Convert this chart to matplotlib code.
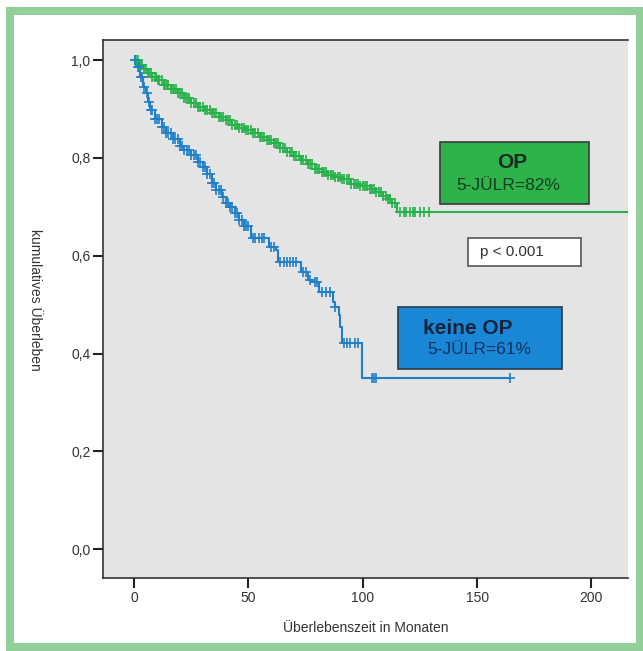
import matplotlib as mpl
mpl.use('Agg')
import matplotlib.pyplot as plt
from matplotlib.patches import Rectangle
import numpy as np

plt.rcParams['font.family'] = ['Liberation Sans', 'DejaVu Sans']

# Kaplan-Meier steps (months, survival)
op_t = [0, 2, 4, 6, 8, 10, 13, 16, 19, 22, 25, 28, 31, 34, 37, 40, 43, 46, 49, 52,
        55, 58, 61, 64, 67, 70, 73, 76, 79, 82, 85, 88, 91, 95, 99, 103, 106, 109, 111, 113, 115]
op_s = [1.0, 0.990, 0.982, 0.973, 0.966, 0.960, 0.950, 0.941, 0.932, 0.922,
        0.912, 0.905, 0.898, 0.891, 0.884, 0.877, 0.868, 0.862, 0.857, 0.851,
        0.843, 0.836, 0.830, 0.821, 0.812, 0.803, 0.795, 0.787, 0.778, 0.771,
        0.765, 0.760, 0.756, 0.747, 0.742, 0.737, 0.730, 0.723, 0.715, 0.707, 0.689]
op_end = 225
op_cens = [0.5, 1, 1.5, 2.5, 3, 3.5, 4.5, 5, 6, 6.5, 7.5, 8, 9, 9.5, 10.5, 11, 12, 13, 13.5,
           14.5, 15, 16, 17, 17.5, 18.5, 19, 20, 21, 22, 22.5, 23.5, 24, 25, 26, 27, 28, 29,
           30, 31, 32, 33, 34, 35, 36, 37, 38, 39, 40, 41, 42, 43, 44, 45, 46, 47, 48, 49,
           50, 51, 52, 53, 54, 55, 56, 57, 58, 59, 60, 61, 62, 63, 64, 65, 66, 67, 68, 69,
           70, 71, 72, 73, 74, 75, 76, 77, 78, 79, 80, 81, 82, 83, 84, 85, 86, 87, 88, 89,
           90, 91, 92, 93, 94, 95, 96, 97, 98, 99, 100, 101, 102, 103, 104, 105, 106, 107,
           108, 109, 110, 111, 112, 113, 114, 116.5, 118, 119, 120.5, 122, 123, 125, 127, 129]

keine_t = [0, 1, 2.5, 4, 5, 6, 7, 9, 12, 14, 17, 20, 22, 25, 28, 30, 32, 34, 36, 38.5,
           40, 42, 44, 46, 48, 51, 59, 62, 63, 73, 76, 78, 81, 87, 88, 89.5, 90, 91, 99.5]
keine_s = [1.0, 0.985, 0.965, 0.945, 0.932, 0.915, 0.898, 0.880, 0.863, 0.851,
           0.838, 0.825, 0.816, 0.805, 0.792, 0.781, 0.768, 0.748, 0.735, 0.720,
           0.708, 0.699, 0.687, 0.672, 0.660, 0.636, 0.617, 0.611, 0.587, 0.566,
           0.550, 0.546, 0.526, 0.505, 0.495, 0.479, 0.454, 0.421, 0.350]
keine_end = 164.5
keine_cens = [0.5, 1.5, 2, 3, 3.5, 4.5, 5.5, 6.5, 7.5, 8, 9, 10, 11, 12, 13, 14, 15, 16, 17,
              18, 19, 20, 21, 22, 23, 24, 25, 26, 27, 28, 29, 30, 31, 32, 33, 34, 35, 36, 37,
              38, 39, 40, 41, 42, 43, 44, 45, 46, 47, 48, 49, 50, 52, 53, 54.5, 56, 57, 60,
              61, 64, 65.5, 67, 68, 69.5, 71, 74, 75, 77, 79, 80, 82, 84, 85.5, 88, 92, 93,
              94.5, 96.7, 98, 104, 105, 106, 164.5]

x_ticks = [0, 50, 100, 150, 200]
y_ticks = [0.0, 0.2, 0.4, 0.6, 0.8, 1.0]
y_ticklabels = ['0,0', '0,2', '0,4', '0,6', '0,8', '1,0']

GREEN = '#27b04b'
BLUE = '#1f80c8'
W, H = 643, 651


def step_at(times, surv, t):
    idx = np.searchsorted(times, t, side='right') - 1
    return np.asarray(surv)[idx]


def km(ax, times, surv, end, cens, color):
    tt = list(times) + [end]
    ss = list(surv) + [surv[-1]]
    ax.step(tt, ss, where='post', color=color, lw=1.5, zorder=3)
    ax.plot(cens, step_at(times, surv, cens), '+', color=color,
            markersize=7, markeredgewidth=1.2, zorder=4)


fig = plt.figure(figsize=(W / 100, H / 100), dpi=100)
ax = fig.add_axes([103 / W, 1 - 578 / H, (628 - 103) / W, (578 - 40) / H])
ax.set_facecolor('#e4e4e4')

km(ax, op_t, op_s, op_end, op_cens, GREEN)
km(ax, keine_t, keine_s, keine_end, keine_cens, BLUE)

ax.set_xlim(-13.6, 216)
ax.set_ylim(-0.059, 1.041)
ax.set_xticks(x_ticks)
ax.set_yticks(y_ticks)
ax.set_yticklabels(y_ticklabels)
ax.tick_params(direction='out', length=7, width=1.5, colors='#222222',
               labelcolor='#333333', labelsize=10, pad=2)
for side in ['left', 'bottom', 'top']:
    ax.spines[side].set_color('#333333')
    ax.spines[side].set_linewidth(1.2)
ax.spines['right'].set_visible(False)

ax.set_xlabel('Überlebenszeit in Monaten', fontsize=10, color='#333333', labelpad=12)
fig.text(35 / W, 1 - 300 / H, 'kumulatives Überleben', rotation=-90,
         fontsize=10, color='#333333', ha='center', va='center')


def box(x0, y0, x1, y1, fc, ec):
    fig.add_artist(Rectangle((x0 / W, 1 - y1 / H), (x1 - x0) / W, (y1 - y0) / H,
                             transform=fig.transFigure, facecolor=fc,
                             edgecolor=ec, linewidth=1.2, zorder=5))


def label(x, y, s, **kw):
    fig.text(x / W, 1 - y / H, s, va='center', zorder=6, **kw)


box(440, 142, 589, 204, '#2db34a', '#3a3a3a')
label(512, 162, 'OP', ha='center', fontsize=15, fontweight='bold', color='#1b2b1e')
label(508, 185, '5-JÜLR=82%', ha='center', fontsize=12.5, color='#163d1e')

box(468, 238, 581, 266, 'white', '#555555')
label(480, 252, 'p < 0.001', ha='left', fontsize=11, color='#333333')

box(398, 307, 562, 369, '#1a86d6', '#2a3a4a')
label(423, 328, 'keine OP', ha='left', fontsize=15, fontweight='bold', color='#16243d')
label(427, 350, '5-JÜLR=61%', ha='left', fontsize=12.5, color='#16305a')

# light green frame around the whole figure
fig.add_artist(Rectangle((10 / W, 4 / H), (639.5 - 10) / W, (640 - 4) / H,
                         transform=fig.transFigure, facecolor='none',
                         edgecolor='#93cf99', linewidth=5.8, zorder=0))

fig.savefig('out.png', dpi=100)
